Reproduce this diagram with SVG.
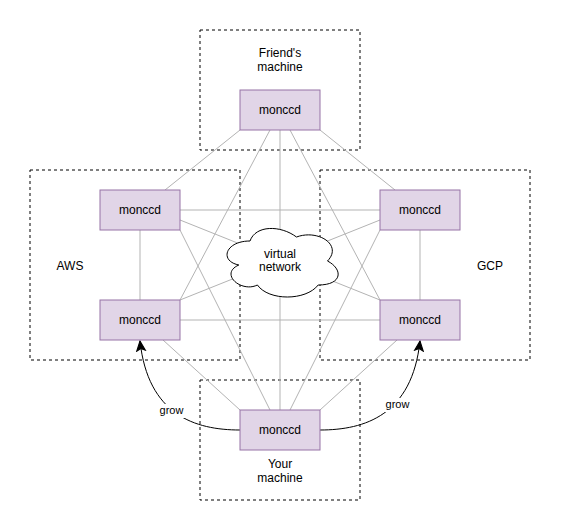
<svg xmlns="http://www.w3.org/2000/svg" width="561" height="531" viewBox="0 0 561 531">
<style>
.container{fill:none;stroke:#000;stroke-width:1;stroke-dasharray:3 3}
.node rect{fill:#e1d5e7;stroke:#9673a6;stroke-width:1}
text{font-family:"Liberation Sans",Arial,sans-serif;font-size:12px;fill:#000;text-anchor:middle}
.edge{stroke:#b3b3b3;stroke-width:1;fill:none}
.grow{stroke:#000;stroke-width:1;fill:none;marker-end:url(#arrow)}
.lbl{font-size:11px}
</style>
<defs>
<marker id="arrow" markerUnits="userSpaceOnUse" markerWidth="12" markerHeight="12" viewBox="-10 -5 11 10" refX="0" refY="0" orient="auto">
<path d="M0,0 L-9,-4 L-7,0 L-9,4 Z" fill="#000" stroke="#000" stroke-width="1"/>
</marker>
</defs>
<rect width="561" height="531" fill="#fff"/>
<g id="containers">
<g id="friend-box"><rect class="container" x="200" y="30" width="160" height="120"/><text x="280" y="57">Friend's</text><text x="280" y="71">machine</text></g>
<g id="aws-box"><rect class="container" x="30" y="170" width="210" height="190"/><text x="70" y="270">AWS</text></g>
<g id="gcp-box"><rect class="container" x="320" y="170" width="210" height="190"/><text x="490" y="270">GCP</text></g>
<g id="your-box"><rect class="container" x="200" y="380" width="160" height="120"/><text x="280" y="468">Your</text><text x="280" y="482">machine</text></g>
</g>
<g id="connectors">
<path class="edge" d="M240 130 L165 190"/>
<path class="edge" d="M270 130 L180 300"/>
<path class="edge" d="M280 130 L280 410"/>
<path class="edge" d="M290 130 L380 300"/>
<path class="edge" d="M320 130 L395 190"/>
<path class="edge" d="M180 210 L380 210"/>
<path class="edge" d="M180 320 L380 320"/>
<path class="edge" d="M140 230 L140 300"/>
<path class="edge" d="M420 230 L420 300"/>
<path class="edge" d="M180 220 L380 300"/>
<path class="edge" d="M180 300 L380 220"/>
<path class="edge" d="M163 340 L240 410"/>
<path class="edge" d="M180 230 L270 410"/>
<path class="edge" d="M380 230 L290 410"/>
<path class="edge" d="M397 340 L320 410"/>
<path class="grow" d="M240 430 C195 430 148 415 140 341"/>
<path class="grow" d="M320 430 C365 430 412 415 420 341"/>
<rect x="158" y="404" width="27" height="14" fill="#fff"/>
<text class="lbl" x="171.5" y="414">grow</text>
<rect x="384" y="398" width="27" height="14" fill="#fff"/>
<text class="lbl" x="397.5" y="408">grow</text>
</g>
<g id="cloud">
<path d="M250 241 C225.2 241 219 261 238.8 265 C219 273.8 241.3 293 257.4 285 C268.6 301 305.8 301 318.2 285 C343 285 343 269 327.5 261 C343 245 318.2 229 296.5 237 C280.4 225 255.6 225 250 241 Z" fill="#fff" stroke="#000" stroke-width="1"/>
<text x="280" y="258">virtual</text><text x="280" y="271">network</text>
</g>
<g id="node-friend" class="node"><rect x="240" y="90" width="80" height="40"/><text x="280" y="114">monccd</text></g>
<g id="node-aws-top" class="node"><rect x="100" y="190" width="80" height="40"/><text x="140" y="214">monccd</text></g>
<g id="node-aws-bottom" class="node"><rect x="100" y="300" width="80" height="40"/><text x="140" y="324">monccd</text></g>
<g id="node-gcp-top" class="node"><rect x="380" y="190" width="80" height="40"/><text x="420" y="214">monccd</text></g>
<g id="node-gcp-bottom" class="node"><rect x="380" y="300" width="80" height="40"/><text x="420" y="324">monccd</text></g>
<g id="node-your" class="node"><rect x="240" y="410" width="80" height="40"/><text x="280" y="434">monccd</text></g>
</svg>
